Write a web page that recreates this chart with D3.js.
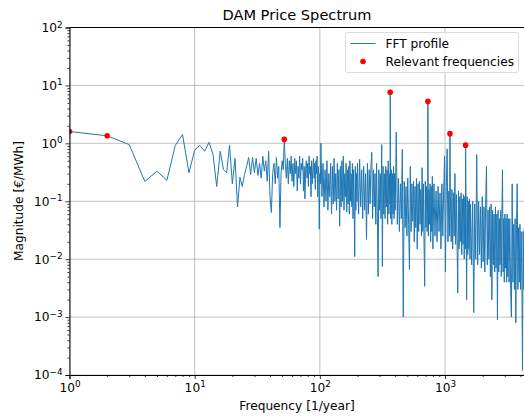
<!DOCTYPE html>
<html>
<head>
<meta charset="utf-8">
<script src="https://cdn.jsdelivr.net/npm/d3@7"></script>
<style>
  body { margin: 0; background: #fff; }
  text { font-family: "DejaVu Sans", sans-serif; fill: #000; }
</style>
</head>
<body>
<div id="svg"></div>
<script>
/////////////////////////////////////////////////////////////////////////////
//// Data ///////////////////////////////////////////////////////////////////
/////////////////////////////////////////////////////////////////////////////

// FFT magnitude at frequencies 1..101 [1/year]
const lowMag = [
  1.6, 1.35, 0.95, 0.22, 0.33, 0.23, 0.92, 1.42, 0.31, 0.76,
  0.92, 0.73, 1.04, 0.65, 0.18, 0.73, 0.35, 0.31, 0.92, 0.2,
  0.55, 0.08, 0.26, 0.18, 0.29, 0.4, 0.57, 0.29, 0.57, 0.31,
  0.55, 0.28, 0.45, 0.25, 0.6, 0.33, 0.5, 0.22, 0.73, 0.12,
  0.064, 0.3, 0.45, 0.2, 0.57, 0.25, 0.4, 0.035, 0.3, 0.5,
  0.35, 1.17, 0.45, 0.25, 0.55, 0.2, 0.5, 0.3, 0.6, 0.22,
  0.45, 0.18, 0.55, 0.3, 0.5, 0.15, 0.4, 0.25, 0.6, 0.2,
  0.45, 0.35, 0.55, 0.15, 0.4, 0.11, 0.35, 0.5, 0.25, 0.45,
  0.18, 0.6, 0.3, 0.4, 0.12, 0.5, 0.2, 0.35, 0.55, 0.25,
  0.45, 0.16, 0.5, 0.3, 0.6, 0.12, 0.4, 0.3, 0.033, 0.3, 0.2
];

const bandA = [ // 102..200, step 2
  1.0, 0.12, 0.45, 0.08, 0.35, 0.1, 0.5, 0.07, 0.3, 0.12,
  0.45, 0.06, 0.4, 0.09, 0.55, 0.1, 0.3, 0.07, 0.45, 0.11,
  0.35, 0.037, 0.4, 0.08, 0.5, 0.1, 0.6, 0.07, 0.3, 0.12,
  0.45, 0.065, 0.35, 0.09, 0.4, 0.06, 0.5, 0.1, 0.3, 0.08,
  0.45, 0.05, 0.35, 0.09, 0.011, 0.4, 0.07, 0.3, 0.1, 0.45
];
const bandB = [ // 204..400, step 4
  0.06, 0.53, 0.08, 0.35, 0.05, 0.4, 0.07, 0.3, 0.022, 0.45,
  0.06, 0.35, 0.09, 0.4, 0.7, 0.05, 0.35, 0.08, 0.3, 0.04,
  0.45, 0.06, 0.005, 0.35, 0.07, 0.3, 0.05, 0.95, 0.0075, 0.4,
  0.06, 0.3, 0.05, 0.4, 0.08, 0.35, 0.04, 0.5, 0.06, 0.3,
  0.09, 0.05, 0.35, 0.04, 0.3, 0.06, 0.4, 0.05, 0.3, 0.07
];
const bandC = [ // 408..800, step 8
  1.55, 0.04, 0.25, 0.03, 0.2, 0.05, 0.79, 0.001, 0.22, 0.035,
  0.18, 0.025, 0.25, 0.04, 0.0066, 0.4, 0.03, 0.2, 0.045, 0.22,
  0.02, 0.18, 0.035, 0.25, 0.015, 0.2, 0.03, 0.22, 0.04, 0.16,
  0.025, 0.38, 0.03, 0.2, 0.02, 0.0034, 0.22, 0.035, 0.18, 0.03,
  0.2, 0.025, 0.16, 0.04, 0.2, 0.02, 0.18, 0.03, 0.27, 0.015
];
const bandD = [ // 816..1600, step 16
  0.2, 0.025, 0.15, 0.02, 0.18, 0.03, 0.14, 0.015, 0.2, 0.025,
  0.15, 0.6, 0.006, 0.18, 0.8, 0.02, 0.15, 0.025, 0.12, 0.02,
  0.16, 0.015, 0.14, 0.025, 0.3, 0.018, 0.13, 0.02, 0.0026, 0.15,
  0.015, 0.12, 0.02, 0.14, 0.012, 0.11, 0.018, 0.13, 0.01, 0.12,
  0.015, 0.1, 0.002, 0.12, 0.012, 0.1, 0.015, 0.11, 0.01, 0.09
];
const bandE = [ // 1632..3200, step 32
  0.008, 0.1, 0.0012, 0.09, 0.01, 0.64, 0.008, 0.1, 0.012, 0.08,
  0.007, 0.12, 0.009, 0.08, 0.006, 0.09, 0.4, 0.008, 0.07, 0.01,
  0.08, 0.005, 0.09, 0.002, 0.07, 0.008, 0.06, 0.006, 0.08, 0.007,
  0.06, 0.0009, 0.07, 0.006, 0.05, 0.008, 0.07, 0.005, 0.06, 0.35,
  0.006, 0.05, 0.004, 0.06, 0.007, 0.05, 0.004, 0.06, 0.005, 0.05
];
const bandF = [ // 3248..4352, step 48
  0.004, 0.05, 0.003, 0.001, 0.2, 0.004, 0.04, 0.003, 0.05, 0.0008,
  0.04, 0.2, 0.003, 0.035, 0.004, 0.04, 0.003, 0.03, 0.004, 0.00012,
  0.03, 0.003, 0.035, 0.004
];
const bands = [
  { start: 102, step: 2, mags: bandA },
  { start: 204, step: 4, mags: bandB },
  { start: 408, step: 8, mags: bandC },
  { start: 816, step: 16, mags: bandD },
  { start: 1632, step: 32, mags: bandE },
  { start: 3248, step: 48, mags: bandF }
];

// Relevant frequencies (yearly, half-yearly, weekly, daily harmonics)
const relFreq = [1, 2, 52, 365, 730, 1095, 1460];
const relMag = [1.6, 1.35, 1.17, 7.6, 5.3, 1.47, 0.93];

const xTicks = [1, 10, 100, 1000];
const yTicks = [1e-4, 1e-3, 1e-2, 1e-1, 1, 10, 100];

/////////////////////////////////////////////////////////////////////////////
//// Set Up /////////////////////////////////////////////////////////////////
/////////////////////////////////////////////////////////////////////////////

const width = 524,
      height = 416;
const plot = { left: 69.5, right: 525.3, top: 27.5, bottom: 375 };
const fontSize = 12.2;

const x = d3.scaleLog().domain([1, 4380]).range([plot.left, plot.right]);
const y = d3.scaleLog().domain([1e-4, 1e2]).range([plot.bottom, plot.top]);

const svg = d3.select("#svg").append("svg")
    .attr("width", width)
    .attr("height", height);

svg.append("clipPath").attr("id", "clip")
  .append("rect")
    .attr("x", plot.left)
    .attr("y", plot.top)
    .attr("width", plot.right - plot.left)
    .attr("height", plot.bottom - plot.top);

// Grid
const grid = svg.append("g").attr("stroke", "#b0b0b0").attr("stroke-width", 0.8);
grid.selectAll(".gx").data(xTicks).enter().append("line")
    .attr("x1", d => x(d)).attr("x2", d => x(d))
    .attr("y1", plot.top).attr("y2", plot.bottom);
grid.selectAll(".gy").data(yTicks).enter().append("line")
    .attr("x1", plot.left).attr("x2", plot.right)
    .attr("y1", d => y(d)).attr("y2", d => y(d));

/////////////////////////////////////////////////////////////////////////////
//// FFT profile ////////////////////////////////////////////////////////////
/////////////////////////////////////////////////////////////////////////////

const profile = lowMag.map((m, i) => ({ f: i + 1, m: m }));
bands.forEach(b => b.mags.forEach((m, i) => profile.push({ f: b.start + b.step * i, m: m })));
relFreq.forEach((f, i) => {
  if (!profile.some(p => p.f === f)) profile.push({ f: f, m: relMag[i] });
});
profile.sort((a, b) => a.f - b.f);

const line = d3.line()
    .x(d => x(d.f))
    .y(d => y(d.m));

svg.append("path")
    .datum(profile)
    .attr("clip-path", "url(#clip)")
    .attr("fill", "none")
    .attr("stroke", "#1f77b4")
    .attr("stroke-width", 1)
    .attr("d", line);

svg.append("g")
    .attr("clip-path", "url(#clip)")
  .selectAll("circle")
  .data(relFreq)
  .enter().append("circle")
    .attr("cx", d => x(d))
    .attr("cy", (d, i) => y(relMag[i]))
    .attr("r", 2.8)
    .attr("fill", "red");

/////////////////////////////////////////////////////////////////////////////
//// Axes ///////////////////////////////////////////////////////////////////
/////////////////////////////////////////////////////////////////////////////

function superscript(sel) {
  sel.selectAll(".tick text").each(function(d) {
    const e = Math.round(Math.log10(d));
    const t = d3.select(this).text(null);
    t.append("tspan").text("10");
    t.append("tspan")
        .attr("dy", "-0.5em")
        .attr("font-size", "0.72em")
        .text(e < 0 ? "\u2212" + (-e) : e);
  });
}

function minorTicks(scale) {
  return scale.ticks().filter(d => xTicks.concat(yTicks).indexOf(d) < 0);
}

const xAxis = svg.append("g")
    .attr("transform", `translate(0,${plot.bottom})`)
    .call(d3.axisBottom(x).tickValues(xTicks).tickSize(4).tickPadding(4));
xAxis.selectAll("text").attr("font-size", fontSize).style("font-family", "DejaVu Sans");
superscript(xAxis);

svg.append("g")
    .attr("transform", `translate(0,${plot.bottom})`)
    .call(d3.axisBottom(x).tickValues(minorTicks(x)).tickSize(2).tickFormat(""))
    .call(g => g.select(".domain").remove());

const yAxis = svg.append("g")
    .attr("transform", `translate(${plot.left},0)`)
    .call(d3.axisLeft(y).tickValues(yTicks).tickSize(4).tickPadding(3));
yAxis.selectAll("text").attr("font-size", fontSize).style("font-family", "DejaVu Sans");
superscript(yAxis);

svg.append("g")
    .attr("transform", `translate(${plot.left},0)`)
    .call(d3.axisLeft(y).tickValues(minorTicks(y)).tickSize(2).tickFormat(""))
    .call(g => g.select(".domain").remove());

svg.selectAll(".domain").attr("stroke", "#000").attr("stroke-width", 1);
svg.selectAll(".tick line").attr("stroke", "#000").attr("stroke-width", 0.8);

// Top spine
svg.append("line")
    .attr("x1", plot.left).attr("x2", plot.right)
    .attr("y1", plot.top).attr("y2", plot.top)
    .attr("stroke", "#000").attr("stroke-width", 1);

// Titles
svg.append("text")
    .attr("x", 297)
    .attr("y", 20)
    .attr("text-anchor", "middle")
    .attr("font-size", 14.6)
    .text("DAM Price Spectrum");

svg.append("text")
    .attr("x", 297)
    .attr("y", 410)
    .attr("text-anchor", "middle")
    .attr("font-size", fontSize)
    .text("Frequency [1/year]");

svg.append("text")
    .attr("transform", "translate(23,201) rotate(-90)")
    .attr("text-anchor", "middle")
    .attr("font-size", fontSize)
    .text("Magnitude [€/MWh]");

/////////////////////////////////////////////////////////////////////////////
//// Legend /////////////////////////////////////////////////////////////////
/////////////////////////////////////////////////////////////////////////////

const legend = svg.append("g").attr("transform", "translate(345.5,32.5)");
legend.append("rect")
    .attr("width", 173)
    .attr("height", 40)
    .attr("rx", 2.5)
    .attr("fill", "#fff")
    .attr("fill-opacity", 0.8)
    .attr("stroke", "#d0d0d0")
    .attr("stroke-width", 0.8);
legend.append("line")
    .attr("x1", 5).attr("x2", 30)
    .attr("y1", 11).attr("y2", 11)
    .attr("stroke", "#1f77b4")
    .attr("stroke-width", 1);
legend.append("circle")
    .attr("cx", 17.5)
    .attr("cy", 29)
    .attr("r", 2.8)
    .attr("fill", "red");
legend.append("text")
    .attr("x", 40).attr("y", 15.5)
    .attr("font-size", fontSize)
    .text("FFT profile");
legend.append("text")
    .attr("x", 40).attr("y", 33.5)
    .attr("font-size", fontSize)
    .text("Relevant frequencies");
</script>
</body>
</html>
